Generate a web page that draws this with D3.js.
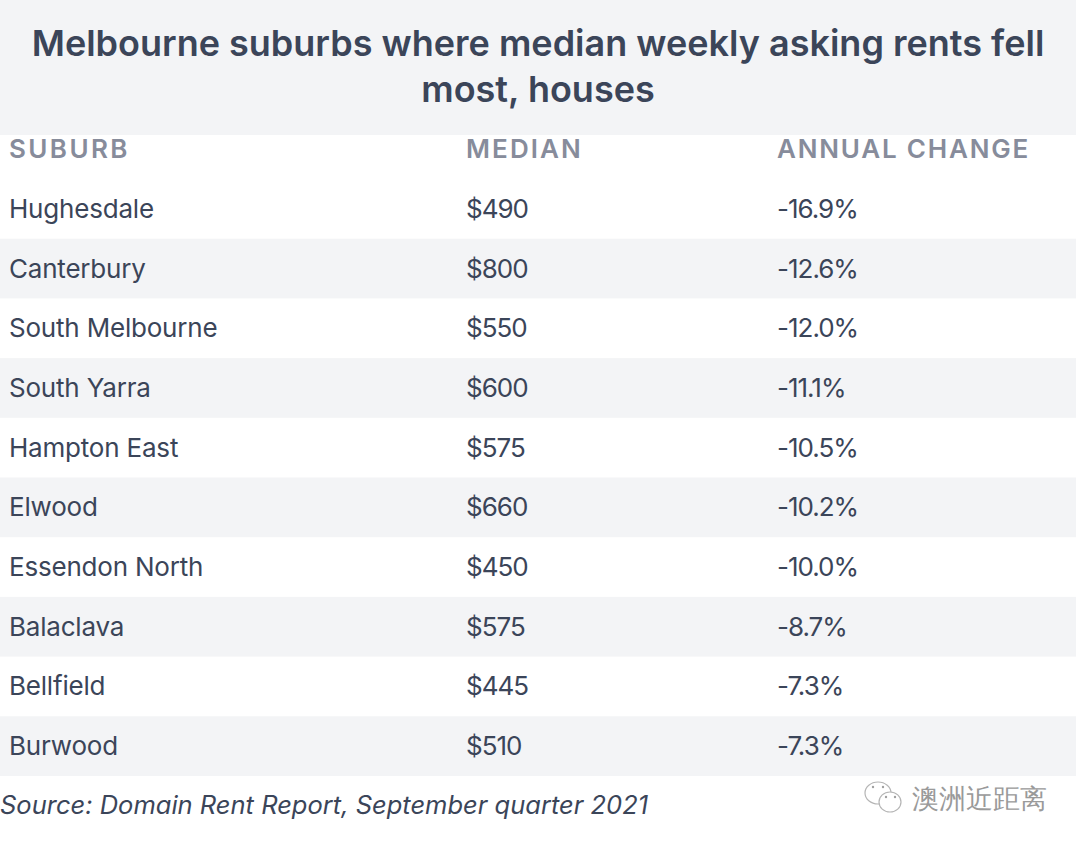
<!DOCTYPE html>
<html>
<head>
<meta charset="utf-8">
<script src="https://cdn.jsdelivr.net/npm/d3@7"></script>
<style>
  html, body { margin: 0; padding: 0; background: #fff; }
  svg { display: block; }
  text { font-family: Inter, "Noto Sans", sans-serif; }
</style>
</head>
<body>
<svg id="chart" width="1080" height="845"></svg>
<script>
// Table content
const titleLines = ['Melbourne suburbs where median weekly asking rents fell', 'most, houses'];
const columns = ['SUBURB', 'MEDIAN', 'ANNUAL CHANGE'];
const suburbs = ['Hughesdale', 'Canterbury', 'South Melbourne', 'South Yarra', 'Hampton East', 'Elwood', 'Essendon North', 'Balaclava', 'Bellfield', 'Burwood'];
const medians = ['$490', '$800', '$550', '$600', '$575', '$660', '$450', '$575', '$445', '$510'];
const changes = ['-16.9%', '-12.6%', '-12.0%', '-11.1%', '-10.5%', '-10.2%', '-10.0%', '-8.7%', '-7.3%', '-7.3%'];
const sourceNote = 'Source: Domain Rent Report, September quarter 2021';
const watermark = '澳洲近距离';

const svg = d3.select('#chart');
const tableWidth = 1076;
const dark = '#3b4559';
const stripe = '#f3f4f6';

// Row bands
const y = d3.scaleBand().domain(suburbs).range([179, 776]);
const x = d3.scaleOrdinal().domain(columns).range([9, 466, 777]);

// Inter runs wider than the original face, so tighten each column a little
const headerSpacing = d3.scaleOrdinal().domain(columns).range([2.4, 2.1, 1.8]);
const cellSpacing = d3.scaleOrdinal().domain(columns).range([-0.2, -1, -1]);

// Title block
svg.append('rect')
    .attr('width', tableWidth)
    .attr('height', 135)
    .attr('fill', stripe);

svg.selectAll('.title')
    .data(titleLines)
    .enter().append('text')
    .attr('class', 'title')
    .attr('x', 538)
    .attr('y', (d, i) => 56 + i * 46)
    .attr('text-anchor', 'middle')
    .attr('font-size', 36)
    .attr('font-weight', 600)
    .attr('fill', dark)
    .text(d => d);

// Column headers
svg.selectAll('.header')
    .data(columns)
    .enter().append('text')
    .attr('class', 'header')
    .attr('x', d => x(d))
    .attr('y', 158)
    .attr('font-size', 26)
    .attr('font-weight', 600)
    .attr('letter-spacing', d => headerSpacing(d))
    .attr('fill', '#878c9b')
    .text(d => d);

// Every second row is shaded
svg.selectAll('.stripe')
    .data(suburbs.filter((d, i) => i % 2 === 1))
    .enter().append('rect')
    .attr('class', 'stripe')
    .attr('x', 0)
    .attr('y', d => y(d))
    .attr('width', tableWidth)
    .attr('height', y.bandwidth())
    .attr('fill', stripe);

const cells = [suburbs, medians, changes];
cells.forEach((values, c) => {
    svg.selectAll('.col' + c)
        .data(values)
        .enter().append('text')
        .attr('class', 'col' + c)
        .attr('x', x(columns[c]))
        .attr('y', (d, i) => y(suburbs[i]) + y.bandwidth() / 2 + 9)
        .attr('font-size', 26)
        .attr('letter-spacing', cellSpacing(columns[c]))
        .attr('fill', dark)
        .text(d => d);
});

// Source line
svg.append('text')
    .attr('x', 0)
    .attr('y', 814)
    .attr('font-size', 25.5)
    .attr('font-style', 'italic')
    .attr('fill', dark)
    .text(sourceNote);

// WeChat style watermark
const mark = svg.append('g').attr('fill', '#fff').attr('stroke', '#b5b5b5').attr('stroke-width', 1.2);
mark.append('ellipse').attr('cx', 878).attr('cy', 793).attr('rx', 13).attr('ry', 11);
mark.append('ellipse').attr('cx', 890).attr('cy', 802).attr('rx', 11).attr('ry', 10);
svg.append('g').attr('fill', '#a0a0a0')
    .selectAll('circle')
    .data([[873, 787], [883, 787], [886, 797], [895, 797]])
    .enter().append('circle')
    .attr('cx', d => d[0])
    .attr('cy', d => d[1])
    .attr('r', 1.2);

svg.append('text')
    .attr('x', 912)
    .attr('y', 808)
    .attr('font-size', 26.5)
    .attr('font-family', '"Noto Sans CJK SC"')
    .attr('fill', '#9a9a9a')
    .text(watermark);
</script>
</body>
</html>
